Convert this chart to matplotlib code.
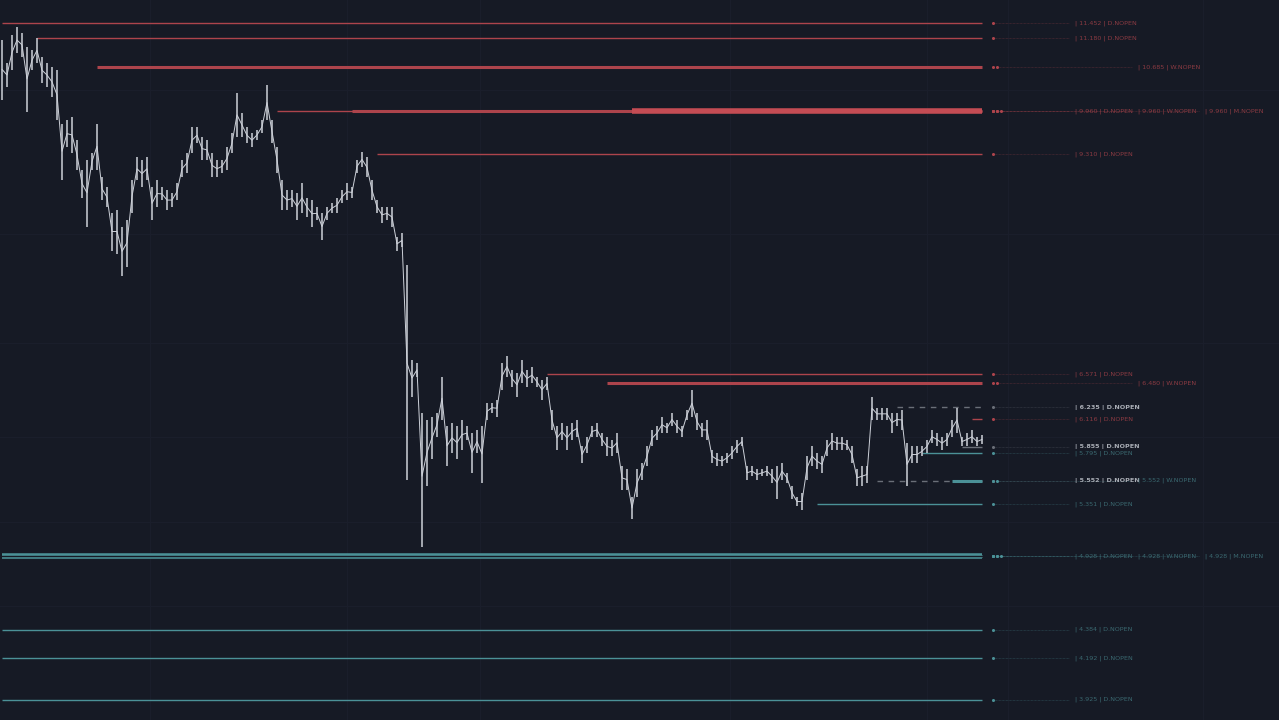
import numpy as np
import matplotlib
matplotlib.use("Agg")
import matplotlib.pyplot as plt
from matplotlib.ticker import NullLocator, NullFormatter

## price bars (high / low) left to right
highs = [11.15, 10.75, 11.24, 11.38, 11.28, 11.02, 10.97, 11.19, 10.85, 10.75,
         10.68, 10.63, 9.77, 9.82, 9.87, 9.52, 9.08, 9.22, 9.32, 9.77,
         8.97, 8.83, 8.48, 8.52, 8.29, 8.39, 8.93, 9.26, 9.22, 9.26,
         8.83, 8.93, 8.83, 8.79, 8.75, 8.89, 9.22, 9.32, 9.71, 9.71,
         9.56, 9.52, 9.32, 9.22, 9.22, 9.41, 9.62, 10.25, 9.93, 9.71,
         9.62, 9.67, 9.82, 10.38, 9.82, 9.41, 8.93, 8.79, 8.79, 8.75,
         8.89, 8.69, 8.65, 8.56, 8.48, 8.56, 8.61, 8.69, 8.79, 8.89,
         8.83, 9.22, 9.34, 9.26, 8.93, 8.65, 8.56, 8.56, 8.56, 8.16,
         8.21, 7.81, 6.72, 6.69, 6.18, 6.11, 6.14, 6.18, 6.54,
         6.05, 6.08, 6.05, 6.11, 6.05, 5.99, 6.01, 6.05, 6.28, 6.28,
         6.31, 6.69, 6.76, 6.61, 6.58, 6.72, 6.61, 6.64, 6.54, 6.51,
         6.54, 6.21, 6.05, 6.08, 6.05, 6.08, 6.11, 5.86, 5.95, 6.05,
         6.08, 5.99, 5.95, 5.92, 5.99, 5.68, 5.65, 5.41, 5.65, 5.71,
         5.86, 6.01, 6.05, 6.14, 6.08, 6.18, 6.11, 6.05, 6.21, 6.41,
         6.18, 6.08, 6.11, 5.83, 5.80, 5.77, 5.80, 5.86, 5.92, 5.95,
         5.68, 5.68, 5.65, 5.65, 5.68, 5.65, 5.68, 5.71, 5.62, 5.50,
         5.41, 5.44, 5.77, 5.86, 5.80, 5.77, 5.92, 5.99, 5.95, 5.95,
         5.92, 5.86, 5.65, 5.68, 5.68, 6.34, 6.23, 6.23, 6.23, 6.18,
         6.18, 6.21, 5.89, 5.86, 5.86, 5.86, 5.92, 6.01, 5.99, 5.95,
         5.99, 6.11, 6.23, 5.95, 5.99, 6.01, 5.95, 5.97]
lows = [10.14, 10.35, 10.63, 10.92, 10.85, 9.95, 10.63, 10.75, 10.41, 10.35,
        10.19, 9.82, 8.93, 9.41, 9.32, 9.08, 8.69, 8.29, 9.08, 9.08,
        8.65, 8.56, 7.99, 7.95, 7.67, 7.79, 8.48, 8.93, 8.83, 8.93,
        8.39, 8.56, 8.65, 8.52, 8.56, 8.65, 8.97, 9.04, 9.32, 9.47,
        9.22, 9.22, 8.97, 8.97, 9.04, 9.08, 9.32, 9.56, 9.56, 9.47,
        9.41, 9.52, 9.62, 9.82, 9.47, 9.04, 8.52, 8.52, 8.56, 8.39,
        8.48, 8.43, 8.29, 8.39, 8.12, 8.39, 8.48, 8.48, 8.61, 8.65,
        8.69, 9.04, 9.12, 8.97, 8.65, 8.48, 8.35, 8.39, 8.29, 7.99,
        8.03, 5.56, 6.34, 6.54, 5.00, 5.50, 5.74, 5.95, 6.11,
        5.68, 5.80, 5.74, 5.83, 5.92, 5.62, 5.80, 5.53, 6.11, 6.18,
        6.14, 6.41, 6.54, 6.44, 6.34, 6.48, 6.44, 6.48, 6.44, 6.31,
        6.41, 6.01, 5.83, 5.92, 5.83, 5.92, 5.95, 5.71, 5.80, 5.95,
        5.95, 5.86, 5.77, 5.77, 5.80, 5.47, 5.47, 5.22, 5.41, 5.56,
        5.68, 5.86, 5.92, 5.99, 5.99, 6.05, 5.99, 5.95, 6.11, 6.14,
        6.01, 5.95, 5.92, 5.71, 5.68, 5.68, 5.71, 5.74, 5.80, 5.86,
        5.56, 5.59, 5.56, 5.59, 5.59, 5.53, 5.39, 5.56, 5.53, 5.39,
        5.33, 5.30, 5.56, 5.68, 5.65, 5.62, 5.77, 5.83, 5.83, 5.83,
        5.83, 5.71, 5.50, 5.50, 5.53, 6.11, 6.11, 6.11, 6.11, 5.99,
        6.05, 6.01, 5.50, 5.71, 5.71, 5.77, 5.80, 5.89, 5.86, 5.83,
        5.86, 5.95, 5.99, 5.86, 5.86, 5.89, 5.86, 5.88]

## key open levels
level_price = [11.452, 11.180, 10.685, 9.960, 9.960, 9.960, 9.310, 6.571, 6.480, 6.235, 6.116,
               5.855, 5.795, 5.552, 5.552, 5.351, 4.928, 4.928, 4.928, 4.384, 4.192, 3.925]
level_tf = ['D', 'D', 'W', 'D', 'W', 'M', 'D', 'D', 'W', 'D', 'D',
            'D', 'D', 'D', 'W', 'D', 'D', 'W', 'M', 'D', 'D', 'D']
level_start = [0, 7, 19, 55, 70, 126, 75, 109, 121, 179, 194,
               192, 184, 175, 190, 163, 0, 0, 0, 0, 0, 0]
level_side = ['r', 'r', 'r', 'r', 'r', 'r', 'r', 'r', 'r', 'g', 'r',
              'g', 't', 'g', 't', 't', 't', 't', 't', 't', 't', 't']

bg = '#161a25'
line_col = {'r': '#ad444c', 't': '#4b9197', 'g': '#6a6f78'}
text_col = {'r': '#8a3a42', 't': '#3a6870', 'g': '#a9adb5'}
lw_tf = {'D': 1.0, 'W': 2.2, 'M': 4.0}
slot = {'D': 0, 'W': 1, 'M': 2}
dot_x = [198.2, 199.0, 199.8]
label_x = [214.6, 227.2, 240.6]

fig = plt.figure(figsize=(12.79, 7.2), dpi=100, facecolor=bg)
ax = fig.add_axes([0, 0, 1, 1], facecolor=bg)
ax.set_yscale('log')
ax.set_xlim(-0.4, 255.4)
ax.set_ylim(3.80, 11.88)

# faint grid
ax.set_xticks([29.6, 69, 95.6, 145.6, 185, 201.2, 240.2])
ax.set_yticks([10.3, 8.2, 6.9, 5.95, 5.2, 4.55])
ax.yaxis.set_minor_locator(NullLocator())
ax.yaxis.set_minor_formatter(NullFormatter())
ax.tick_params(length=0, labelbottom=False, labelleft=False)
for s in ax.spines.values():
    s.set_visible(False)
ax.grid(True, color='#1a1e2b', lw=0.8)
ax.set_axisbelow(True)

last = len(highs) - 1
x = np.arange(len(highs))

for p, tf, st, sd in zip(level_price, level_tf, level_start, level_side):
    c = line_col[sd]
    if tf == 'M' and sd == 'r':
        c = '#c44c54'
    if sd == 'g' and p != 5.855:
        ax.plot([st, last], [p, p], color=c, lw=1.0, dashes=(4, 4), zorder=2)
    else:
        ax.plot([st, last], [p, p], color=c, lw=lw_tf[tf], zorder=2, solid_capstyle='butt')
    k = slot[tf]
    ax.plot(dot_x[:k + 1], [p] * (k + 1), 'o', ms=2.2, color=line_col[sd], mec='none', zorder=3)
    ax.plot([dot_x[k], label_x[k] - 1.2], [p, p], color=line_col[sd], lw=0.5, alpha=0.45,
            ls=(0, (1, 1)), zorder=2)
    ax.text(label_x[k], p, '| %.3f | %s.NOPEN' % (p, tf), color=text_col[sd], fontsize=4.6,
            va='center', ha='left', fontweight='bold' if sd == 'g' else 'normal')

# the stacked 4.928 band shows a dark seam
ax.plot([0, last], [4.928, 4.928], color=bg, lw=1.0, zorder=2)

# price candles
ax.vlines(x, lows, highs, color='#cdd1d9', lw=1.1, zorder=4)
mid = (np.array(highs) + np.array(lows)) / 2
ax.plot(x, mid, color='#cdd1d9', lw=0.7, zorder=4)

plt.savefig('out.png', dpi=100, facecolor=bg)
